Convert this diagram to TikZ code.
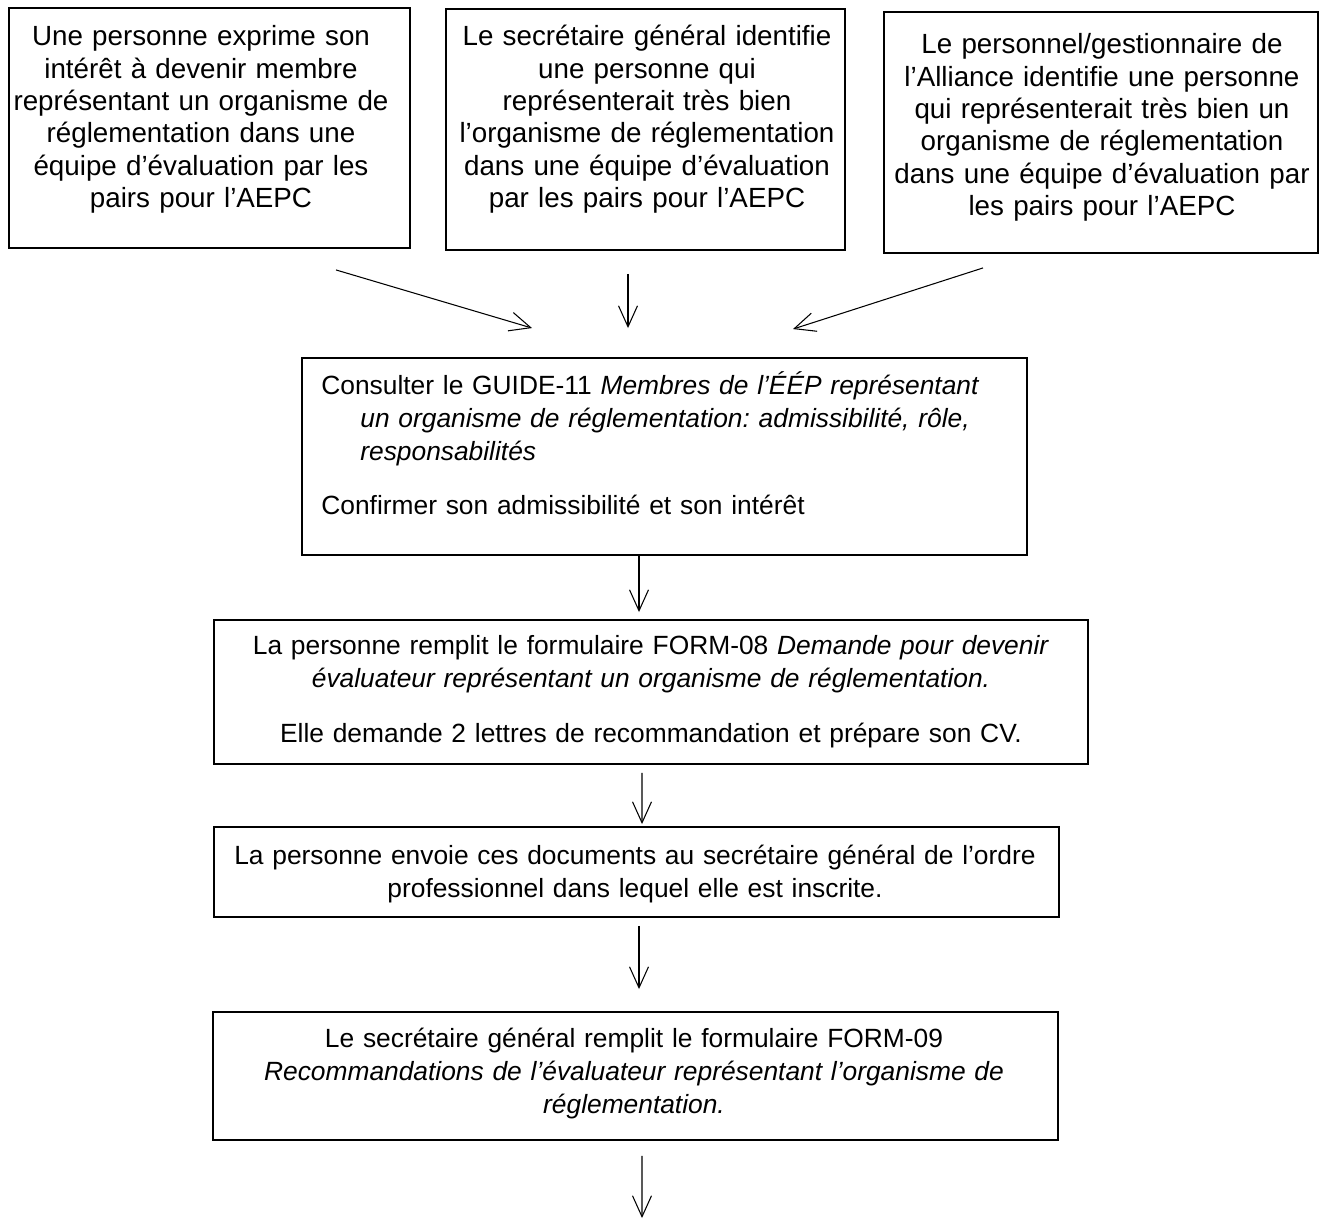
\documentclass[tikz,border=0pt]{standalone}
\usepackage{fontspec}
\setmainfont{Liberation Sans}
\usepackage{tikz}
\usetikzlibrary{arrows.meta}

\tikzset{
  box/.style={draw, line width=1.1pt, rectangle, inner sep=0pt},
  txt/.style={inner sep=0pt, align=center, anchor=base, font=\fontsize{15pt}{19pt}\selectfont},
  haut/.style={txt, font=\fontsize{15.8pt}{18.4pt}\selectfont},
  arr/.style={line width=0.6pt, -{Straight Barb[length=0.42cm, width=0.38cm, line width=0.6pt]}}
}

\begin{document}
\frenchspacing
\begin{tikzpicture}[x=0.02cm, y=-0.02cm]
        \useasboundingbox (0,0) rectangle (1324,1220);

        % les trois points de depart
        \node[box, minimum width=8.02cm, minimum height=4.8cm] (pers) at (209.5,128) {};
        \node[box, minimum width=7.98cm, minimum height=4.82cm] (sec) at (645.5,129.5) {};
        \node[box, minimum width=8.68cm, minimum height=4.82cm] (gest) at (1101,132.5) {};

        \node[haut, text width=8cm] (perst) at (201,46) {Une personne exprime son\\ intérêt à devenir membre\\ représentant un organisme de\\ réglementation dans une\\ équipe d’évaluation par les\\ pairs pour l’AEPC};
        \node[haut, text width=8cm] (sect) at (647,46) {Le secrétaire général identifie\\ une personne qui\\ représenterait très bien\\ l’organisme de réglementation\\ dans une équipe d’évaluation\\ par les pairs pour l’AEPC};
        \node[haut, text width=8.6cm] (gestt) at (1102,54) {Le personnel/gestionnaire de\\ l’Alliance identifie une personne\\ qui représenterait très bien un\\ organisme de réglementation\\ dans une équipe d’évaluation par\\ les pairs pour l’AEPC};

        % les etapes
        \node[box, minimum width=14.5cm, minimum height=3.94cm] (cons) at (664.5,456.5) {};
        \node[txt, anchor=base west, align=left, text width=14cm] (const) at (321,394) {Consulter le GUIDE-11 \textit{Membres de l’ÉÉP représentant}\\ \hspace*{0.78cm}\textit{un organisme de réglementation: admissibilité, rôle,}\\ \hspace*{0.78cm}\textit{responsabilités}\\[0.4cm] Confirmer son admissibilité et son intérêt};

        \node[box, minimum width=17.48cm, minimum height=2.88cm] (form) at (651,692) {};
        \node[txt, text width=17cm] (formt) at (651,654) {La personne remplit le formulaire FORM-08 \textit{Demande pour devenir}\\ \textit{évaluateur représentant un organisme de réglementation.}\\[0.44cm] Elle demande 2 lettres de recommandation et prépare son CV.};

        \node[box, minimum width=16.9cm, minimum height=1.8cm] (envoi) at (636.5,872) {};
        \node[txt, text width=16.8cm] (envoit) at (635,864) {La personne envoie ces documents au secrétaire général de l’ordre\\ professionnel dans lequel elle est inscrite.};

        \node[box, minimum width=16.9cm, minimum height=2.56cm] (recom) at (635.5,1076) {};
        \node[txt, text width=16.8cm] (recomt) at (634,1047) {Le secrétaire général remplit le formulaire FORM-09\\ \textit{Recommandations de l’évaluateur représentant l’organisme de}\\ \textit{réglementation.}};

        \coordinate (fin) at (642,1218);

        % fleches
        \draw[arr] ([shift={(126.5,21)}]pers.south) -- ([shift={(-132.5,-29)}]cons.north);
        \draw[arr] ([shift={(-17.5,23)}]sec.south) -- ([shift={(-36.5,-29)}]cons.north);
        \draw[arr] ([shift={(-118,14)}]gest.south) -- ([shift={(128.5,-28)}]cons.north);
        \draw[arr] ([shift={(-25.5,0)}]cons.south) -- ([shift={(-12,-7)}]form.north);
        \draw[arr] ([shift={(-9,8)}]form.south) -- ([shift={(5.5,-2)}]envoi.north);
        \draw[arr] ([shift={(2.5,8)}]envoi.south) -- ([shift={(3.5,-22)}]recom.north);
        \draw[arr] ([shift={(6.5,15)}]recom.south) -- (fin);
    \end{tikzpicture}
\end{document}
